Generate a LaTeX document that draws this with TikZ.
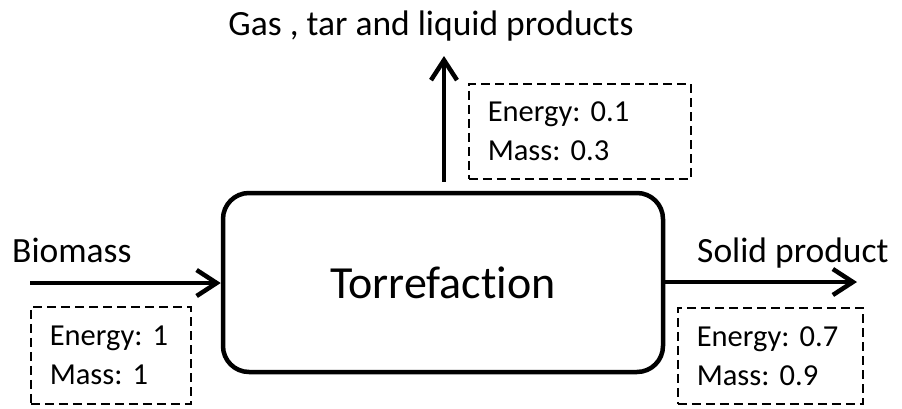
\documentclass[tikz,border=0pt]{standalone}
\usepackage{fontspec}
\setmainfont{Carlito}[Ligatures={NoCommon,NoRequired,NoContextual}]
\usetikzlibrary{arrows.meta}

\tikzset{
  flow/.style={line width=4.5pt, -{Straight Barb[length=20pt, width=26pt, line width=4.5pt]}},
  process/.style={draw, line width=4.5pt, rounded corners=26pt, minimum width=440pt,
                  minimum height=179pt, inner sep=0pt,
                  font=\fontsize{46}{52}\selectfont},
  label/.style={font=\fontsize{35.5}{42}\selectfont, inner sep=0pt},
  databox/.style={draw, dashed, dash pattern=on 9pt off 5pt, line width=1.6pt,
                  anchor=north west, inner xsep=19pt, inner ysep=0pt, align=left,
                  font=\fontsize{30.5}{39}\selectfont},
}

\begin{document}
\frenchspacing
\begin{tikzpicture}[x=1pt, y=-1pt]
  \useasboundingbox (0,0) rectangle (902,408);

  % central process
  \node[process] (proc) at (443,282.5) {Torrefaction};

  % input
  \coordinate (inStart) at (30,283);
  \node[label, anchor=base west] (inLab) at (12,262) {Biomass};
  \draw[flow] (inStart) -- (proc.west |- inStart);
  \node[databox, minimum width=160pt, minimum height=97pt, text width=122pt] (inData)
    at (30,306) {Energy: 1\\Mass: 1};

  % volatile products
  \coordinate (gasEnd) at (444,56);
  \node[label, anchor=base] (gasLab) at (431,35) {Gas , tar and liquid products};
  \draw[flow, shorten <=9pt] (proc.north -| gasEnd) -- (gasEnd);
  \node[databox, minimum width=222pt, minimum height=95pt, text width=184pt] (gasData)
    at (468,83) {Energy: 0.1\\Mass: 0.3};

  % solid product
  \coordinate (solEnd) at (857,282);
  \node[label, anchor=base west] (solLab) at (697,262) {Solid product};
  \draw[flow] (proc.east |- solEnd) -- (solEnd);
  \node[databox, minimum width=185pt, minimum height=96pt, text width=147pt] (solData)
    at (677,307) {Energy: 0.7\\Mass: 0.9};
\end{tikzpicture}
\end{document}
